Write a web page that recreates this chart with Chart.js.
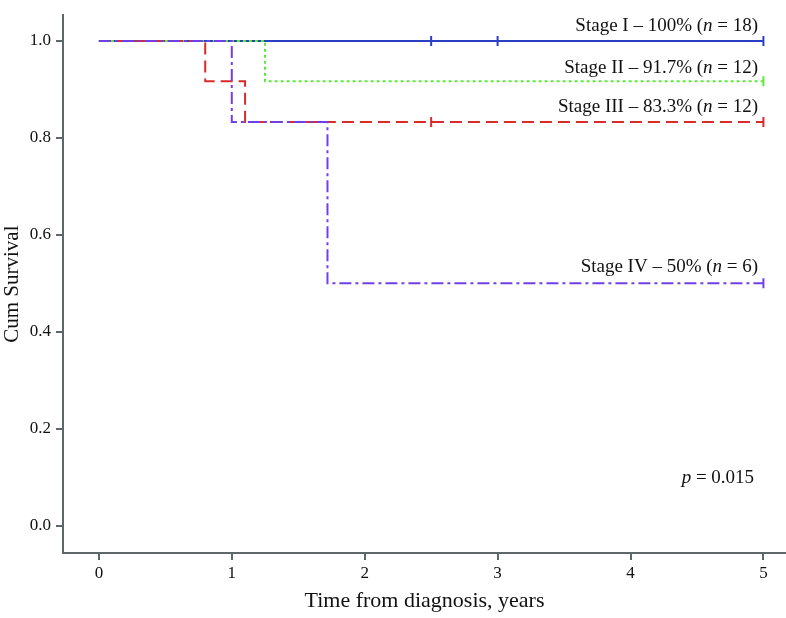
<!DOCTYPE html>
<html>
<head>
<meta charset="utf-8">
<script src="https://cdn.jsdelivr.net/npm/chart.js@4/dist/chart.umd.min.js"></script>
<style>
  html, body { margin: 0; padding: 0; background: #fff; overflow: hidden; }
  #wrap { width: 793px; height: 618px; }
</style>
</head>
<body>
<div id="wrap"><canvas id="chart"></canvas></div>
<script>
// DATA
var stageNames = ['Stage I', 'Stage II', 'Stage III', 'Stage IV'];
var stagePct = ['100%', '91.7%', '83.3%', '50%'];
var stageN = [18, 12, 12, 6];

var stage1Time = [0, 5];
var stage1Surv = [1, 1];
var stage2Time = [0, 1.25, 5];
var stage2Surv = [1, 0.917, 0.917];
var stage3Time = [0, 0.8, 1.1, 5];
var stage3Surv = [1, 0.917, 0.833, 0.833];
var stage4Time = [0, 1.0, 1.72, 5];
var stage4Surv = [1, 0.833, 0.5, 0.5];

// censored observations (tick marks)
var stage1Cens = [2.5, 3, 5];
var stage2Cens = [5];
var stage3Cens = [2.5, 5];
var stage4Cens = [5];

var xTicks = [0, 1, 2, 3, 4, 5];
var yTicks = [0, 0.2, 0.4, 0.6, 0.8, 1.0];
var pValue = '0.015';

var colors = ['#2b3fc6', '#5fe83c', '#d92b2b', '#7040e6'];
var dashes = [[], [3, 3], [12, 6], [12, 4, 3, 4]];
var serif = "'Liberation Serif', 'DejaVu Serif', serif";
var axisGray = '#5f6868';

function pts(xs, ys) {
  return xs.map(function (x, i) { return { x: x, y: ys[i] }; });
}
function censPts(xs, level) {
  return xs.map(function (x) { return { x: x, y: level }; });
}

var curves = [
  pts(stage1Time, stage1Surv),
  pts(stage2Time, stage2Surv),
  pts(stage3Time, stage3Surv),
  pts(stage4Time, stage4Surv)
];
var censors = [
  censPts(stage1Cens, stage1Surv[stage1Surv.length - 1]),
  censPts(stage2Cens, stage2Surv[stage2Surv.length - 1]),
  censPts(stage3Cens, stage3Surv[stage3Surv.length - 1]),
  censPts(stage4Cens, stage4Surv[stage4Surv.length - 1])
];

var datasets = [];
curves.forEach(function (c, i) {
  datasets.push({
    label: stageNames[i],
    data: c,
    stepped: true,
    borderColor: colors[i],
    borderWidth: 2,
    borderDash: dashes[i],
    pointRadius: 0,
    fill: false,
    order: 4 - i
  });
});
censors.forEach(function (c, i) {
  datasets.push({
    label: stageNames[i] + ' censored',
    data: c,
    showLine: false,
    pointStyle: 'line',
    rotation: 90,
    pointRadius: 5,
    borderColor: colors[i],
    borderWidth: 2,
    order: 0
  });
});

// label positions (data units): right edge x, centre y
var labelPos = [
  { x: 4.96, y: 1.031 },
  { x: 4.96, y: 0.944 },
  { x: 4.96, y: 0.864 },
  { x: 4.96, y: 0.533 }
];

function drawRich(ctx, parts, xRight, yMid, size) {
  var total = 0;
  parts.forEach(function (p) {
    ctx.font = (p[1] ? 'italic ' : '') + size + 'px ' + serif;
    p.w = ctx.measureText(p[0]).width;
    total += p.w;
  });
  var x = xRight - total;
  parts.forEach(function (p) {
    ctx.font = (p[1] ? 'italic ' : '') + size + 'px ' + serif;
    ctx.fillText(p[0], x, yMid);
    x += p.w;
  });
}

var labelsPlugin = {
  id: 'kmLabels',
  afterDatasetsDraw: function (chart) {
    var ctx = chart.ctx;
    var xs = chart.scales.x, ys = chart.scales.y;
    ctx.save();
    ctx.fillStyle = '#111';
    ctx.textBaseline = 'middle';
    ctx.textAlign = 'left';
    labelPos.forEach(function (p, i) {
      drawRich(ctx, [
        [stageNames[i] + ' \u2013 ' + stagePct[i] + ' (', false],
        ['n', true],
        [' = ' + stageN[i] + ')', false]
      ], xs.getPixelForValue(p.x), ys.getPixelForValue(p.y), 19);
    });
    drawRich(ctx, [['p', true], [' = ' + pValue, false]],
      xs.getPixelForValue(4.93), ys.getPixelForValue(0.099), 19);
    ctx.restore();
  }
};

new Chart(document.getElementById('chart'), {
  type: 'line',
  data: { datasets: datasets },
  plugins: [labelsPlugin],
  options: {
    responsive: true,
    maintainAspectRatio: false,
    animation: false,
    layout: { padding: { top: 14, right: 0, left: 0, bottom: 0 } },
    plugins: { legend: { display: false }, tooltip: { enabled: false } },
    scales: {
      x: {
        type: 'linear',
        min: -0.27,
        max: 5.17,
        afterBuildTicks: function (s) { s.ticks = xTicks.map(function (v) { return { value: v }; }); },
        afterFit: function (s) { s.height = 65; },
        border: { color: axisGray, width: 2 },
        grid: { drawOnChartArea: false, drawTicks: true, tickLength: 7, color: axisGray, lineWidth: 2 },
        ticks: { color: '#111', font: { family: serif, size: 17 }, padding: 3, maxRotation: 0 },
        title: { display: true, text: 'Time from diagnosis, years', color: '#111', font: { family: serif, size: 22 }, padding: { top: 2 } }
      },
      y: {
        type: 'linear',
        min: -0.056,
        max: 1.053,
        afterBuildTicks: function (s) { s.ticks = yTicks.map(function (v) { return { value: v }; }); },
        afterFit: function (s) { s.width = 63; },
        border: { color: axisGray, width: 2 },
        grid: { drawOnChartArea: false, drawTicks: true, tickLength: 7, color: axisGray, lineWidth: 2 },
        ticks: {
          color: '#111', font: { family: serif, size: 17 }, padding: 5,
          callback: function (v) { return Number(v).toFixed(1); }
        },
        title: { display: true, text: 'Cum Survival', color: '#111', font: { family: serif, size: 21 }, padding: 0 }
      }
    }
  }
});
</script>
</body>
</html>
